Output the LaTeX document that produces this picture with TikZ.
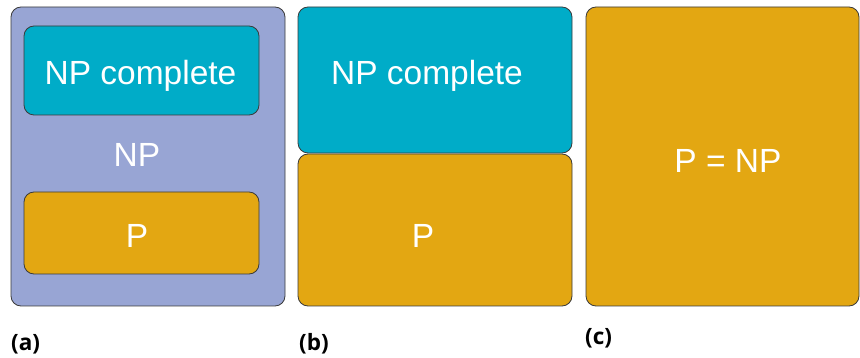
\documentclass[tikz,border=0pt]{standalone}
\usepackage{fontspec}
\setmainfont{Liberation Sans}
\newfontfamily\labfont{Open Sans}
\definecolor{lav}{HTML}{98A5D4}
\definecolor{teal}{HTML}{00ACC8}
\definecolor{gold}{HTML}{E3A712}
\definecolor{edge}{HTML}{3A3A3A}
\begin{document}
\begin{tikzpicture}[x=1pt,y=-1pt,
  box/.style={draw=edge, line width=0.8pt, rounded corners=10pt, inner sep=0pt},
  big/.style={text=white, font=\fontsize{33.5}{38}\selectfont, anchor=base, inner sep=0pt},
  lab/.style={font=\labfont\bfseries\fontsize{22.5}{26}\selectfont, anchor=base west, inner sep=0pt}]
\useasboundingbox (0,0) rectangle (860,358);
% (a)
\node[box, fill=lav, minimum width=274pt, minimum height=299pt] (aNP) at (148,156.5) {};
\node[box, fill=teal, minimum width=235pt, minimum height=89pt] (aNPC) at (141.5,70.5) {};
\node[box, fill=gold, minimum width=235pt, minimum height=82pt] (aP) at (141.5,233) {};
\node[big] (taNPC) at (140.5,85) {NP complete};
\node[big] (taNP) at (137,167) {NP};
\node[big] (taP) at (137,248) {P};
\node[lab] (la) at (11,350) {(a)};
% (b)
\node[box, fill=teal, minimum width=274pt, minimum height=146pt] (bNPC) at (435,80) {};
\node[box, fill=gold, minimum width=274pt, minimum height=152pt] (bP) at (435,230) {};
\node[big] (tbNPC) at (427,85) {NP complete};
\node[big] (tbP) at (423,248) {P};
\node[lab] (lb) at (299,350) {(b)};
% (c)
\node[box, fill=gold, minimum width=273pt, minimum height=299pt] (cPNP) at (722.5,156.5) {};
\node[big] (tcPNP) at (728,173) {P = NP};
\node[lab] (lc) at (585,344) {(c)};
\end{tikzpicture}
\end{document}
